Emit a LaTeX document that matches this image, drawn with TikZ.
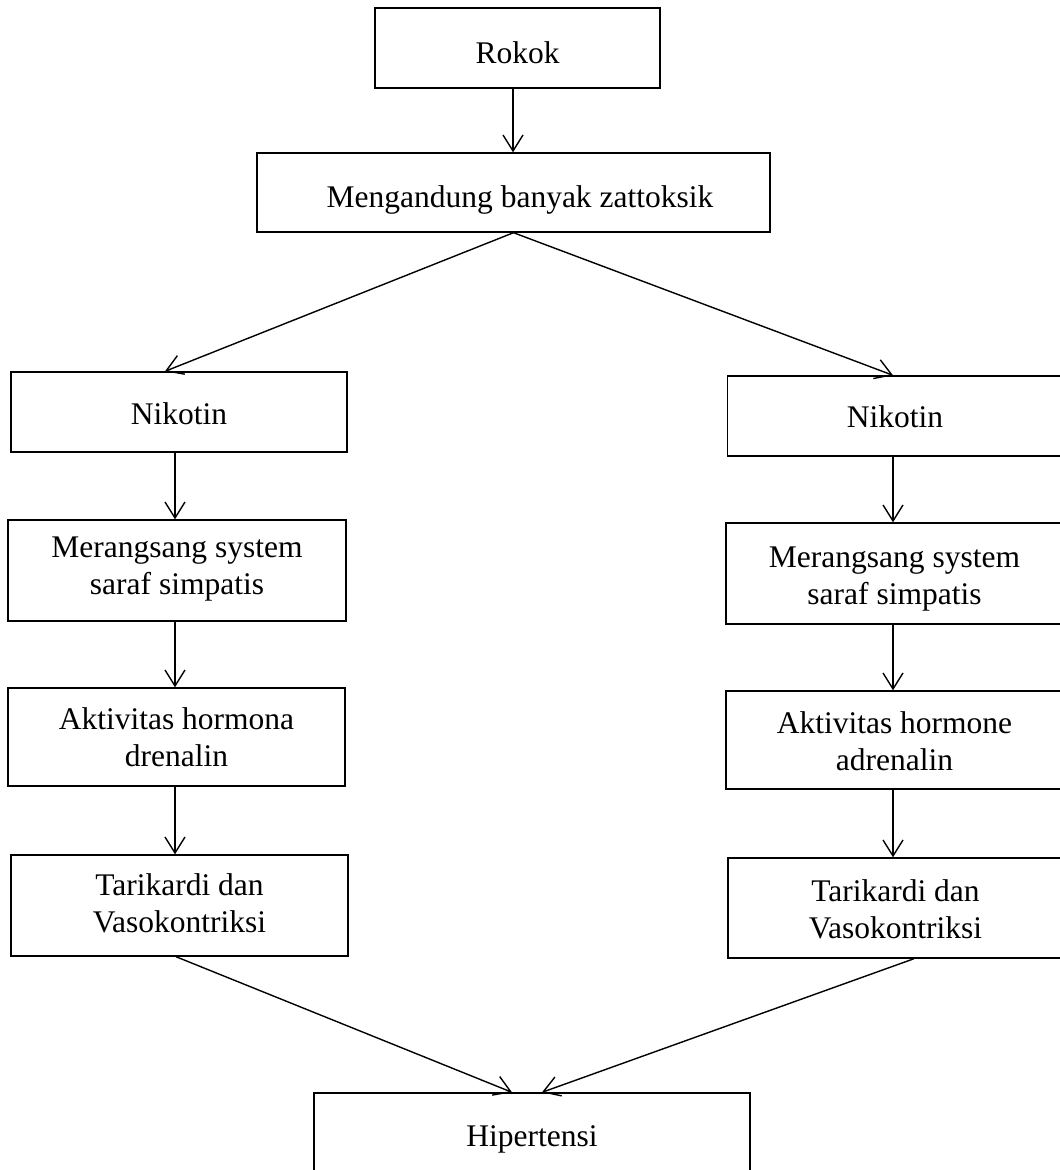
\documentclass[tikz,border=0pt]{standalone}
\usepackage{fontspec}
\setmainfont{Liberation Serif}
\usetikzlibrary{arrows.meta}
\begin{document}
\begin{tikzpicture}[x=1pt,y=-1pt,
  box/.style={draw, line width=1.4pt, inner sep=0pt},
  txt/.style={align=center, inner sep=0pt, font=\fontsize{31.5}{37}\selectfont},
  arr/.style={line width=1.4pt, -{Straight Barb[length=16pt,width=20pt,line width=1.4pt]}}]
\useasboundingbox (0,0) rectangle (1060,1170);
\begin{scope}
\clip (0,0) rectangle (1060,1170);
\node[box, minimum width=285pt, minimum height=80pt] (rk) at (517.5,48) {};
\node[box, minimum width=513pt, minimum height=79pt] (mg) at (513.5,192.5) {};
% left column
\node[box, minimum width=336pt, minimum height=80pt] (ln) at (179,412) {};
\node[box, minimum width=338pt, minimum height=101pt] (lm) at (177,570.5) {};
\node[box, minimum width=337pt, minimum height=98pt] (la) at (176.5,737) {};
\node[box, minimum width=337pt, minimum height=101pt] (lt) at (179.5,905.5) {};
% right column
\node[box, minimum width=335pt, minimum height=80pt] (rn) at (895,416) {};
\node[box, minimum width=337pt, minimum height=101pt] (rm) at (894.5,573.5) {};
\node[box, minimum width=337pt, minimum height=98pt] (ra) at (894.5,740) {};
\node[box, minimum width=335pt, minimum height=100pt] (rt) at (895.5,908) {};
% bottom
\node[box, minimum width=436pt, minimum height=88pt] (hp) at (532,1137) {};
\end{scope}
% texts
\node[txt] (rkT) at (517.5,52.3) {Rokok};
\node[txt] (mgT) at (520,199.6) {Mengandung banyak zattoksik};
\node[txt] (lnT) at (179,413.3) {Nikotin};
\node[txt] (lmT) at (177,569.5) {Merangsang system\\saraf simpatis};
\node[txt] (laT) at (176.5,737.7) {Aktivitas hormona\\drenalin};
\node[txt] (ltT) at (179.5,903.2) {Tarikardi dan\\Vasokontriksi};
\node[txt] (rnT) at (895,417.1) {Nikotin};
\node[txt] (rmT) at (894.5,578.9) {Merangsang system\\saraf simpatis};
\node[txt] (raT) at (894.5,741.4) {Aktivitas hormone\\adrenalin};
\node[txt] (rtT) at (895.5,908.9) {Tarikardi dan\\Vasokontriksi};
\node[txt] (hpT) at (532,1139.1) {Hipertensi};
% connectors
\draw[arr] ([xshift=-4.5pt]rk.south) -- ([xshift=-0.5pt]mg.north);
\draw[arr] (mg.south) -- ([xshift=-14pt]ln.north);
\draw[arr] (mg.south) -- ([xshift=-2pt]rn.north);
\draw[arr] ([xshift=-4pt]ln.south) -- ([xshift=-2pt]lm.north);
\draw[arr] ([xshift=-2pt]lm.south) -- ([xshift=-1.5pt]la.north);
\draw[arr] ([xshift=-1.5pt]la.south) -- ([xshift=-4.5pt]lt.north);
\draw[arr] ([xshift=-2pt]rn.south) -- ([xshift=-1.5pt]rm.north);
\draw[arr] ([xshift=-1.5pt]rm.south) -- ([xshift=-1.5pt]ra.north);
\draw[arr] ([xshift=-1.5pt]ra.south) -- ([xshift=-2.5pt]rt.north);
\draw[arr] ([xshift=-3.5pt]lt.south) -- ([xshift=-20pt]hp.north);
\draw[arr] ([xshift=18.5pt]rt.south) -- ([xshift=10pt]hp.north);
\end{tikzpicture}
\end{document}
